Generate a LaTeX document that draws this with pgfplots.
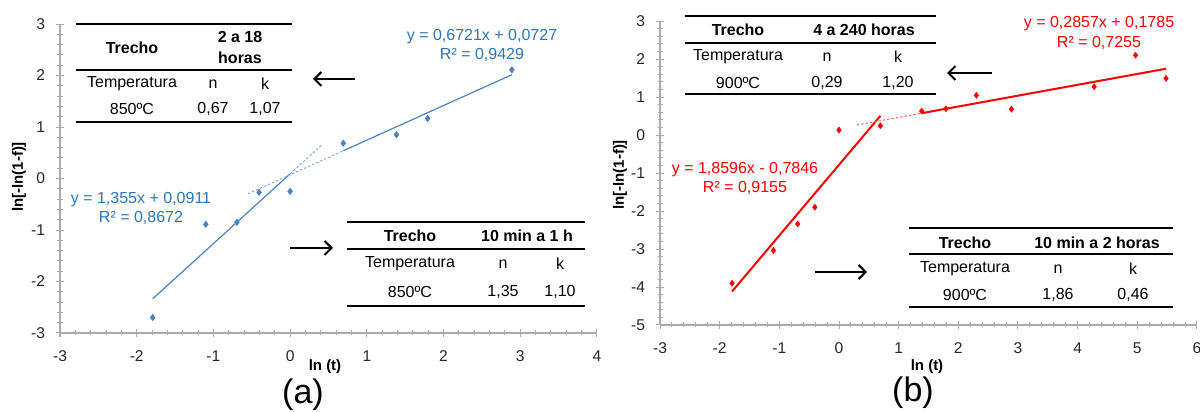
\documentclass[border=0pt]{standalone}
\usepackage{pgfplots}
\pgfplotsset{compat=1.18}
\usepackage{fontspec}
\setmainfont{Liberation Sans}
\usetikzlibrary{arrows.meta}
\definecolor{xlblue}{RGB}{79,129,189}
\definecolor{eqblue}{RGB}{46,117,182}
\definecolor{xlred}{RGB}{255,0,0}
\definecolor{axgray}{RGB}{170,170,170}
\newcommand{\tf}{\fontsize{8}{9.6}\selectfont}

\pgfplotsset{
  panel/.style={
    scale only axis,
    axis lines=left,
    axis line style={-, draw=axgray, line width=0.6pt},
    tick style={draw=axgray, line width=0.5pt},
    major tick length=4pt, minor tick length=2.5pt, tick align=center,
    minor tick num=4,
    ticklabel style={font=\fontsize{7.8}{9}\selectfont, text=black!85},
    xticklabel style={yshift=-3.5pt},
    yticklabel style={xshift=-2pt},
    /pgf/number format/assume math mode=true,
    clip=false,
  },
}

\begin{document}
\begin{tikzpicture}
\path[use as bounding box] (0,0) rectangle (600pt,206pt);

% (a)
\begin{axis}[panel,
  at={(30pt,39.5pt)}, anchor=south west,
  width=268.5pt, height=154.5pt,
  xmin=-3, xmax=4, ymin=-3, ymax=3,
  xtick={-3,...,4}, ytick={-3,...,3},
]
\addplot[only marks, mark=diamond*, mark size=1.5pt, color=xlblue]
  coordinates {(-1.792,-2.70) (-1.099,-0.89) (-0.693,-0.85) (-0.405,-0.27) (0,-0.25)
               (0.693,0.685) (1.386,0.85) (1.792,1.165) (2.890,2.11)};
\addplot[xlblue, line width=0.6pt] coordinates {(-1.792,-2.337) (0,0.0911)};
\addplot[xlblue!70, line width=0.5pt, dash pattern=on 1.2pt off 1pt] coordinates {(0,0.0911) (0.42,0.660)};
\addplot[xlblue, line width=0.6pt] coordinates {(0.693,0.5385) (2.890,2.0151)};
\addplot[xlblue!70, line width=0.5pt, dash pattern=on 1.2pt off 1pt] coordinates {(-0.55,-0.297) (0.693,0.5385)};
\end{axis}

% (b)
\begin{axis}[panel,
  at={(330pt,43.5pt)}, anchor=south west,
  width=268.5pt, height=152pt,
  xmin=-3, xmax=6, ymin=-5, ymax=3,
  xtick={-3,...,6}, ytick={-5,...,3},
]
\addplot[only marks, mark=diamond*, mark size=1.4pt, color=xlred]
  coordinates {(-1.792,-3.90) (-1.099,-3.04) (-0.693,-2.34) (-0.405,-1.90) (0,0.13)
               (0.693,0.245) (1.386,0.63) (1.792,0.69) (2.303,1.045) (2.890,0.68)
               (4.277,1.27) (4.970,2.10) (5.481,1.49)};
\addplot[xlred, line width=1pt] coordinates {(-1.792,-4.117) (0.693,0.5041)};
\addplot[xlred!60, line width=0.5pt, dash pattern=on 1.2pt off 1pt] coordinates {(0.3,0.2642) (1.386,0.5745)};
\addplot[xlred, line width=1pt] coordinates {(1.386,0.5745) (5.481,1.7444)};
\end{axis}

\begin{scope}[x=0.5pt, y=-0.5pt, yshift=206pt]
  % axis labels
  \node[rotate=90, font=\fontsize{7.5}{9}\selectfont\bfseries] at (19,177) {ln[-ln(1-f)]};
  \node[rotate=90, font=\fontsize{7.5}{9}\selectfont\bfseries] at (620,175) {ln[-ln(1-f)]};
  \node[font=\fontsize{7.5}{9}\selectfont\bfseries] at (325,367) {ln (t)};
  \node[font=\fontsize{7.5}{9}\selectfont\bfseries] at (927,367) {ln (t)};
  \node[font=\fontsize{17}{20}\selectfont] at (303,395) {(a)};
  \node[font=\fontsize{17}{20}\selectfont] at (913,393) {(b)};

  % trend equations
  \begin{scope}[every node/.style={font=\tf, text=eqblue, inner sep=0pt}]
    \node at (141,200) {y = 1,355x + 0,0911};
    \node at (141,218) {R² = 0,8672};
    \node at (482,37) {y = 0,6721x + 0,0727};
    \node at (482,55) {R² = 0,9429};
  \end{scope}
  \begin{scope}[every node/.style={font=\tf, text=xlred, inner sep=0pt}]
    \node at (745,170) {y = 1,8596x - 0,7846};
    \node at (745,188) {R² = 0,9155};
    \node at (1099,24) {y = 0,2857x + 0,1785};
    \node at (1099,43) {R² = 0,7255};
  \end{scope}

  % tables
  \begin{scope}[line width=0.75pt, every node/.style={font=\tf, inner sep=0pt},
                arr/.style={line width=1pt, -{Straight Barb[length=3.5pt,width=7pt]}}]
    % left top
    \draw (76,24) -- (292,24) (76,70) -- (292,70) (76,122) -- (292,122);
    \node[font=\tf\bfseries] at (132,48) {Trecho};
    \node[font=\tf\bfseries] at (240,37) {2 a 18};
    \node[font=\tf\bfseries] at (240,58) {horas};
    \node at (132,84) {Temperatura}; \node at (213,84) {n}; \node at (265,84) {k};
    \node at (132,109) {850ºC}; \node at (213,109) {0,67}; \node at (265,109) {1,07};
    \draw[arr] (355,79) -- (313,79);
    % left bottom
    \draw (347,222) -- (585,222) (347,249) -- (585,249) (347,306) -- (585,306);
    \node[font=\tf\bfseries] at (410,236) {Trecho};
    \node[font=\tf\bfseries] at (527,236) {10 min a 1 h};
    \node at (410,264) {Temperatura}; \node at (503,264) {n}; \node at (560,264) {k};
    \node at (410,292) {850ºC}; \node at (503,292) {1,35}; \node at (560,292) {1,10};
    \draw[arr] (290,248) -- (333,248);
    % right top
    \draw (685,16) -- (936,16) (685,43) -- (936,43) (685,94) -- (936,94);
    \node[font=\tf\bfseries] at (738,30) {Trecho};
    \node[font=\tf\bfseries] at (864,30) {4 a 240 horas};
    \node at (738,57) {Temperatura}; \node at (827,57) {n}; \node at (898,57) {k};
    \node at (738,83) {900ºC}; \node at (827,83) {0,29}; \node at (898,83) {1,20};
    \draw[arr] (992,73) -- (947,73);
    % right bottom
    \draw (909,228) -- (1173,228) (909,254) -- (1173,254) (909,307) -- (1173,307);
    \node[font=\tf\bfseries] at (965,243) {Trecho};
    \node[font=\tf\bfseries] at (1097,243) {10 min a 2 horas};
    \node at (965,269) {Temperatura}; \node at (1058,269) {n}; \node at (1133,269) {k};
    \node at (965,295) {900ºC}; \node at (1058,295) {1,86}; \node at (1133,295) {0,46};
    \draw[arr] (815,272) -- (867,272);
  \end{scope}
\end{scope}
\end{tikzpicture}
\end{document}
